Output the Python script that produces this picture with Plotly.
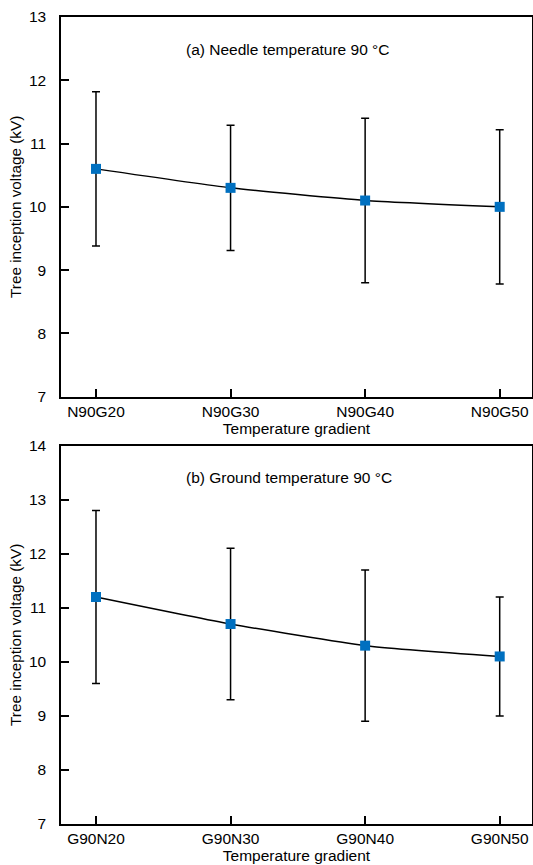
import plotly.graph_objects as go
from plotly.subplots import make_subplots

cats_a = ["N90G20", "N90G30", "N90G40", "N90G50"]
vals_a = [10.6, 10.3, 10.1, 10.0]
err_a = [1.22, 0.99, 1.30, 1.22]

cats_b = ["G90N20", "G90N30", "G90N40", "G90N50"]
vals_b = [11.2, 10.7, 10.3, 10.1]
err_b = [1.6, 1.4, 1.4, 1.1]

title_a = "(a) Needle temperature 90 °C"
title_b = "(b) Ground temperature 90 °C"
xtitle = "Temperature gradient"
ytitle = "Tree inception voltage (kV)"

FONT = "Liberation Sans, Arial, sans-serif"
BLUE = "#0070C0"

fig = make_subplots(rows=2, cols=1, vertical_spacing=0.06)

for r, (cats, vals, err) in enumerate([(cats_a, vals_a, err_a), (cats_b, vals_b, err_b)], start=1):
    fig.add_trace(go.Scatter(
        x=list(range(len(cats))), y=vals, mode="lines+markers",
        line=dict(color="black", width=1.5, shape="spline", smoothing=0.5),
        marker=dict(symbol="square", size=10, color=BLUE),
        error_y=dict(type="data", array=err, visible=True, color="black", thickness=1.5, width=4),
        showlegend=False, cliponaxis=False,
    ), row=r, col=1)

axis_common = dict(showline=True, linecolor="black", linewidth=1.5, mirror=True,
                   ticks="inside", ticklen=8, tickwidth=1.5, tickcolor="black",
                   showgrid=False, zeroline=False, automargin=False,
                   tickfont=dict(family=FONT, size=15.5, color="black"))

fig.update_layout(
    width=533, height=865,
    margin=dict(l=61, r=1, t=17, b=41),
    plot_bgcolor="white", paper_bgcolor="white",
    font=dict(family=FONT, color="black"),
)

fig.update_xaxes(**axis_common, tickmode="array", range=[-0.26, 3.24], ticklabeloverflow="allow",
                 title=dict(text=xtitle, font=dict(family=FONT, size=15.5), standoff=0))
fig.update_xaxes(tickvals=list(range(4)), ticktext=cats_a, row=1, col=1)
fig.update_xaxes(tickvals=list(range(4)), ticktext=cats_b, row=2, col=1)

fig.update_yaxes(**axis_common, dtick=1, ticklabelstandoff=10,
                 title=dict(text=ytitle, font=dict(family=FONT, size=15.3), standoff=4))
fig.update_yaxes(range=[7, 13], row=1, col=1)
fig.update_yaxes(range=[7, 14], row=2, col=1)

fig.update_layout(
    yaxis=dict(domain=[0.5295, 1.0]),
    yaxis2=dict(domain=[0.0, 0.4688]),
)

fig.add_annotation(text=title_a, xref="x domain", yref="y domain", x=0.261, y=0.915,
                   showarrow=False, xanchor="left", yanchor="middle",
                   font=dict(family=FONT, size=15.5, color="black"))
fig.add_annotation(text=title_b, xref="x2 domain", yref="y2 domain", x=0.261, y=0.915,
                   showarrow=False, xanchor="left", yanchor="middle",
                   font=dict(family=FONT, size=15.5, color="black"))

fig.write_html("out.html", config={"displayModeBar": False},
               post_script="document.body.style.margin='0';document.body.style.overflow='hidden';")
